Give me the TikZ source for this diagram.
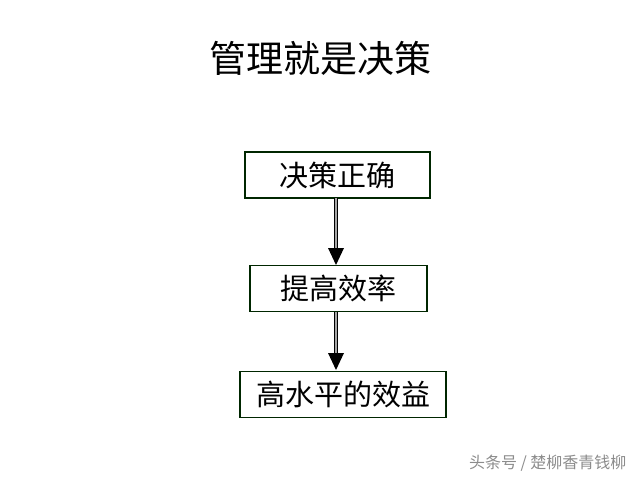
\documentclass[tikz,border=0pt]{standalone}
\usepackage{fontspec}
\newfontfamily\cjk{Noto Sans CJK SC}
\begin{document}
\begin{tikzpicture}[x=1pt,y=-1pt,
  box/.style={draw=black!85!green, line width=1.2pt, minimum height=46pt, inner sep=0pt, font=\cjk\fontsize{29}{29}\selectfont},
  shaft/.style={draw=black, double=gray!70, double distance=1.6pt, line width=1pt}]
\useasboundingbox (0,0) rectangle (640,480);
\fill[white] (0,0) rectangle (640,480);
\node[font=\cjk\fontsize{37}{37}\selectfont] (title) at (320,58) {管理就是决策};
\node[box, minimum width=185pt] (b1) at (337.5,175) {决策正确};
\node[box, minimum width=177pt] (b2) at (338.5,288.5) {提高效率};
\node[box, minimum width=206pt] (b3) at (343,394.5) {高水平的效益};
\coordinate (a1s) at (336,198);
\coordinate (a1t) at (336,249);
\draw[shaft] (a1s) -- (a1t);
\fill (336,265) -- (328,248) -- (344,248) -- cycle;
\coordinate (a2s) at (336,312);
\coordinate (a2t) at (336,354);
\draw[shaft] (a2s) -- (a2t);
\fill (336,370) -- (328,353) -- (344,353) -- cycle;
\node[font=\cjk\fontsize{16}{16}\selectfont, text=gray!90, anchor=east] (wm) at (630,463) {头条号 / 楚柳香青钱柳};
\end{tikzpicture}
\end{document}
